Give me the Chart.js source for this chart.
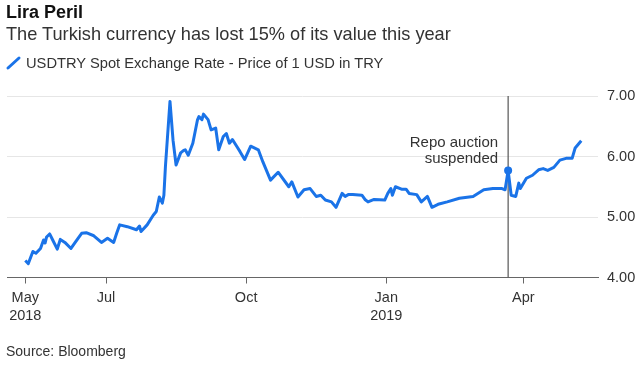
<!DOCTYPE html>
<html>
<head>
<meta charset="utf-8">
<script src="https://cdn.jsdelivr.net/npm/chart.js@4.4.1/dist/chart.umd.min.js"></script>
<style>
  html, body { margin: 0; padding: 0; background: #fff; }
  body { width: 640px; height: 378px; position: relative; overflow: hidden;
         font-family: "Liberation Sans", Arial, sans-serif; }
  .txt { position: absolute; left: 6px; white-space: nowrap; color: #333; }
  #title { top: 3px; font-size: 18px; line-height: 18px; font-weight: bold; color: #111; }
  #subtitle { top: 25px; font-size: 18.2px; line-height: 18px; }
  #legend { top: 56px; left: 26px; font-size: 14.7px; line-height: 14.5px; }
  #legendIcon { position: absolute; left: 5px; top: 54px; }
  #source { top: 344px; font-size: 14px; line-height: 14px; }
  #myChart { position: absolute; left: 0; top: 0; }
</style>
</head>
<body>
<canvas id="myChart" width="640" height="378"></canvas>
<div class="txt" id="title">Lira Peril</div>
<div class="txt" id="subtitle">The Turkish currency has lost 15% of its value this year</div>
<svg id="legendIcon" width="18" height="18"><line x1="3" y1="14" x2="14" y2="4" stroke="#1a73e8" stroke-width="3" stroke-linecap="round"/></svg>
<div class="txt" id="legend">USDTRY Spot Exchange Rate - Price of 1 USD in TRY</div>
<div class="txt" id="source">Source: Bloomberg</div>

<script>
// USDTRY readings
const dates = [
  "2018-05-09","2018-05-11","2018-05-14","2018-05-16","2018-05-19","2018-05-21","2018-05-22","2018-05-23",
  "2018-05-25","2018-05-27","2018-05-30","2018-06-01","2018-06-04","2018-06-08","2018-06-11","2018-06-15",
  "2018-06-18","2018-06-23","2018-06-28","2018-07-02","2018-07-06","2018-07-08","2018-07-10","2018-07-15",
  "2018-07-21","2018-07-23","2018-07-24","2018-07-28","2018-08-01","2018-08-03","2018-08-05","2018-08-07",
  "2018-08-08","2018-08-09","2018-08-12","2018-08-14","2018-08-16","2018-08-19","2018-08-21","2018-08-22",
  "2018-08-24","2018-08-27","2018-08-30","2018-08-31","2018-09-02","2018-09-03","2018-09-06","2018-09-08",
  "2018-09-11","2018-09-13","2018-09-16","2018-09-18","2018-09-20","2018-09-22","2018-09-25","2018-09-27",
  "2018-09-30","2018-10-04","2018-10-09","2018-10-12","2018-10-17","2018-10-22","2018-10-29","2018-10-31",
  "2018-11-04","2018-11-08","2018-11-12","2018-11-16","2018-11-19","2018-11-22","2018-11-26","2018-11-29",
  "2018-12-03","2018-12-05","2018-12-07","2018-12-10","2018-12-16","2018-12-18","2018-12-20","2018-12-24",
  "2018-12-31","2019-01-02","2019-01-04","2019-01-05","2019-01-07","2019-01-11","2019-01-14","2019-01-16",
  "2019-01-21","2019-01-24","2019-01-28","2019-01-31","2019-02-04","2019-02-10","2019-02-18","2019-02-27",
  "2019-03-06","2019-03-12","2019-03-18","2019-03-20","2019-03-22","2019-03-24","2019-03-27","2019-03-29",
  "2019-03-30","2019-04-03","2019-04-07","2019-04-11","2019-04-14","2019-04-17","2019-04-21","2019-04-25",
  "2019-04-29","2019-05-03","2019-05-05","2019-05-09"
];
const rates = [
  4.28, 4.23, 4.43, 4.40, 4.48, 4.62, 4.57, 4.67,
  4.72, 4.62, 4.47, 4.63, 4.58, 4.48, 4.59, 4.73,
  4.74, 4.69, 4.58, 4.65, 4.58, 4.73, 4.87, 4.84,
  4.79, 4.85, 4.76, 4.87, 5.03, 5.09, 5.33, 5.23,
  5.36, 5.83, 6.91, 6.27, 5.86, 6.06, 6.10, 6.11,
  6.02, 6.22, 6.60, 6.66, 6.61, 6.70, 6.61, 6.44,
  6.47, 6.11, 6.33, 6.38, 6.22, 6.28, 6.16, 6.08,
  5.95, 6.17, 6.11, 5.91, 5.61, 5.74, 5.50, 5.58,
  5.33, 5.45, 5.47, 5.34, 5.36, 5.28, 5.25, 5.16,
  5.39, 5.34, 5.37, 5.37, 5.36, 5.29, 5.25, 5.29,
  5.28, 5.39, 5.47, 5.36, 5.50, 5.46, 5.46, 5.39,
  5.37, 5.25, 5.34, 5.16, 5.21, 5.25, 5.31, 5.34,
  5.45, 5.47, 5.47, 5.45, 5.77, 5.36, 5.34, 5.56,
  5.47, 5.64, 5.69, 5.78, 5.80, 5.77, 5.82, 5.94,
  5.97, 5.97, 6.14, 6.26
];

const tickDates = ["2018-05-09", "2018-07-01", "2018-10-01", "2019-01-01", "2019-04-01"];
const tickLabels = [["May", "2018"], ["Jul"], ["Oct"], ["Jan", "2019"], ["Apr"]];
const yTicks = [4, 5, 6, 7];

const eventDate = "2019-03-22";
const eventText = ["Repo auction", "suspended"];

const BLUE = "#1a73e8";
const t0 = Date.parse("2018-05-01");
function dayOf(s) { return (Date.parse(s) - t0) / 86400000; }

const points = dates.map((d, i) => ({ x: dayOf(d), y: rates[i] }));
const eventDay = dayOf(eventDate);

Chart.defaults.font.family = '"Liberation Sans", Arial, sans-serif';
Chart.defaults.color = "#333";

const annotationText = {
  id: "annotationText",
  afterDatasetsDraw(chart) {
    const c = chart.ctx;
    const xs = chart.scales.x, ys = chart.scales.y;
    const x = xs.getPixelForValue(eventDay) - 10;
    const y = ys.getPixelForValue(6.16);
    c.save();
    c.font = '15px "Liberation Sans", Arial, sans-serif';
    c.fillStyle = "#333";
    c.textAlign = "right";
    c.textBaseline = "alphabetic";
    c.fillText(eventText[0], x, y);
    c.fillText(eventText[1], x, y + 16.5);
    c.restore();
  }
};

new Chart("myChart", {
  type: "line",
  data: {
    datasets: [{
      data: points,
      borderColor: BLUE,
      borderWidth: 3,
      tension: 0,
      borderJoinStyle: "round",
      pointRadius: ctx => (ctx.raw && ctx.raw.x === eventDay ? 4 : 0),
      pointBackgroundColor: BLUE,
      pointBorderWidth: 0,
      fill: false
    }, {
      data: [{ x: eventDay, y: 4 }, { x: eventDay, y: 7 }],
      borderColor: "#555",
      borderWidth: 1.2,
      pointRadius: 0,
      fill: false
    }]
  },
  options: {
    responsive: false,
    animation: false,
    devicePixelRatio: 1,
    layout: { padding: { left: 7, top: 96, right: 0, bottom: 0 } },
    plugins: { legend: { display: false }, tooltip: { enabled: false } },
    scales: {
      x: {
        type: "linear",
        min: -4,
        max: 384,
        afterBuildTicks: s => { s.ticks = tickDates.map(d => ({ value: dayOf(d) })); },
        afterFit: s => { s.height = 100.5; },
        ticks: {
          autoSkip: false,
          maxRotation: 0,
          padding: 5,
          color: "#333",
          font: { size: 14.5, lineHeight: 1.25 },
          callback: (v, i) => tickLabels[i]
        },
        grid: { drawOnChartArea: false, drawTicks: true, tickLength: 6, color: "#666" },
        border: { color: "#666", width: 1 }
      },
      y: {
        position: "right",
        min: 4,
        max: 7,
        afterBuildTicks: s => { s.ticks = yTicks.map(v => ({ value: v })); },
        afterFit: s => { s.width = 42; },
        ticks: {
          padding: 9,
          color: "#333",
          font: { size: 14.5 },
          callback: v => v.toFixed(2)
        },
        grid: { color: "#e6e6e6", drawTicks: false },
        border: { display: false }
      }
    }
  },
  plugins: [annotationText]
});
</script>
</body>
</html>
